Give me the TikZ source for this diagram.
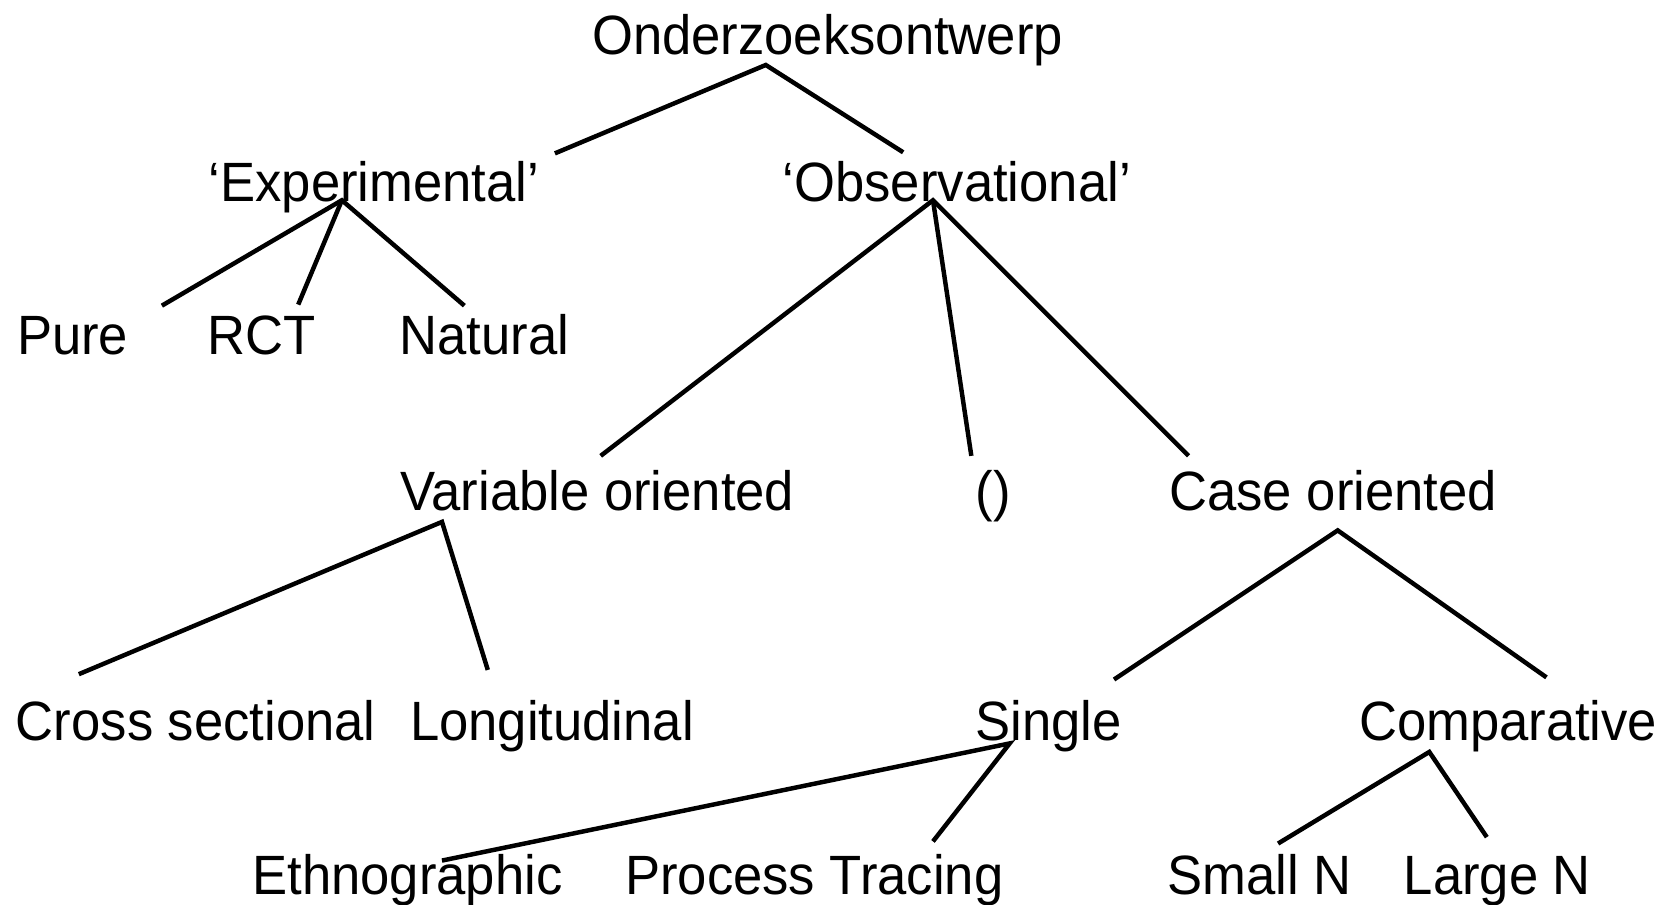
\documentclass[tikz,border=0pt]{standalone}
\usepackage{fontspec}
\setmainfont{Liberation Sans}[FakeStretch=0.95]
\begin{document}
\begin{tikzpicture}[x=1pt,y=-1pt,
  lbl/.style={anchor=base west,inner sep=0pt,outer sep=0pt,font=\fontsize{52}{60}\selectfont},
  edge/.style={line width=4.2pt,line cap=butt}]
\useasboundingbox (0,0) rectangle (1568,849);
% labels, placed by left edge and baseline
\node[lbl] (root) at (556,51) {Onderzoeksontwerp};
\node[lbl] (exp) at (196,189) {‘Experimental’};
\node[lbl] (obs) at (735,189) {‘Observational’};
\node[lbl] (pure) at (16,333) {Pure};
\node[lbl] (rct) at (195,333) {RCT};
\node[lbl] (nat) at (375,333) {Natural};
\node[lbl] (var) at (376,479) {Variable oriented};
\node[lbl] (empty) at (916,479) {()};
\node[lbl] (case) at (1098,479) {Case oriented};
\node[lbl] (cross) at (15,695) {Cross sectional};
\node[lbl] (long) at (385,695) {Longitudinal};
\node[lbl] (single) at (916,695) {Single};
\node[lbl] (comp) at (1276,695) {Comparative};
\node[lbl] (ethno) at (237,840) {Ethnographic};
\node[lbl] (proc) at (587,840) {Process Tracing};
\node[lbl] (small) at (1096,840) {Small N};
\node[lbl] (large) at (1318,840) {Large N};
% branch points and line ends
\coordinate (rootJ) at (719,61);
\coordinate (expT) at (521,144);
\coordinate (obsT) at (848,143);
\coordinate (expJ) at (321,188);
\coordinate (pureT) at (152,287);
\coordinate (rctT) at (280,286);
\coordinate (natT) at (436,287);
\coordinate (obsJ) at (876,188);
\coordinate (varT) at (564,428);
\coordinate (emptyT) at (912,428);
\coordinate (caseT) at (1116,428);
\coordinate (varJ) at (415,490);
\coordinate (crossT) at (74,633);
\coordinate (longT) at (458,629);
\coordinate (caseJ) at (1256,498);
\coordinate (singleT) at (1046,638);
\coordinate (compT) at (1452,636);
\coordinate (singleJ) at (948,698);
\coordinate (ethnoT) at (415,808);
\coordinate (procT) at (876,790);
\coordinate (compJ) at (1342,706);
\coordinate (smallT) at (1200,792);
\coordinate (largeT) at (1396,786);
% tree branches
\draw[edge] (expT) -- (rootJ) -- (obsT);
\draw[edge] (pureT) -- (expJ) -- (natT);
\draw[edge] (expJ) -- (rctT);
\draw[edge] (varT) -- (obsJ) -- (caseT);
\draw[edge] (obsJ) -- (emptyT);
\draw[edge] (crossT) -- (varJ) -- (longT);
\draw[edge] (singleT) -- (caseJ) -- (compT);
\draw[edge] (ethnoT) -- (singleJ) -- (procT);
\draw[edge] (smallT) -- (compJ) -- (largeT);
\end{tikzpicture}
\end{document}
